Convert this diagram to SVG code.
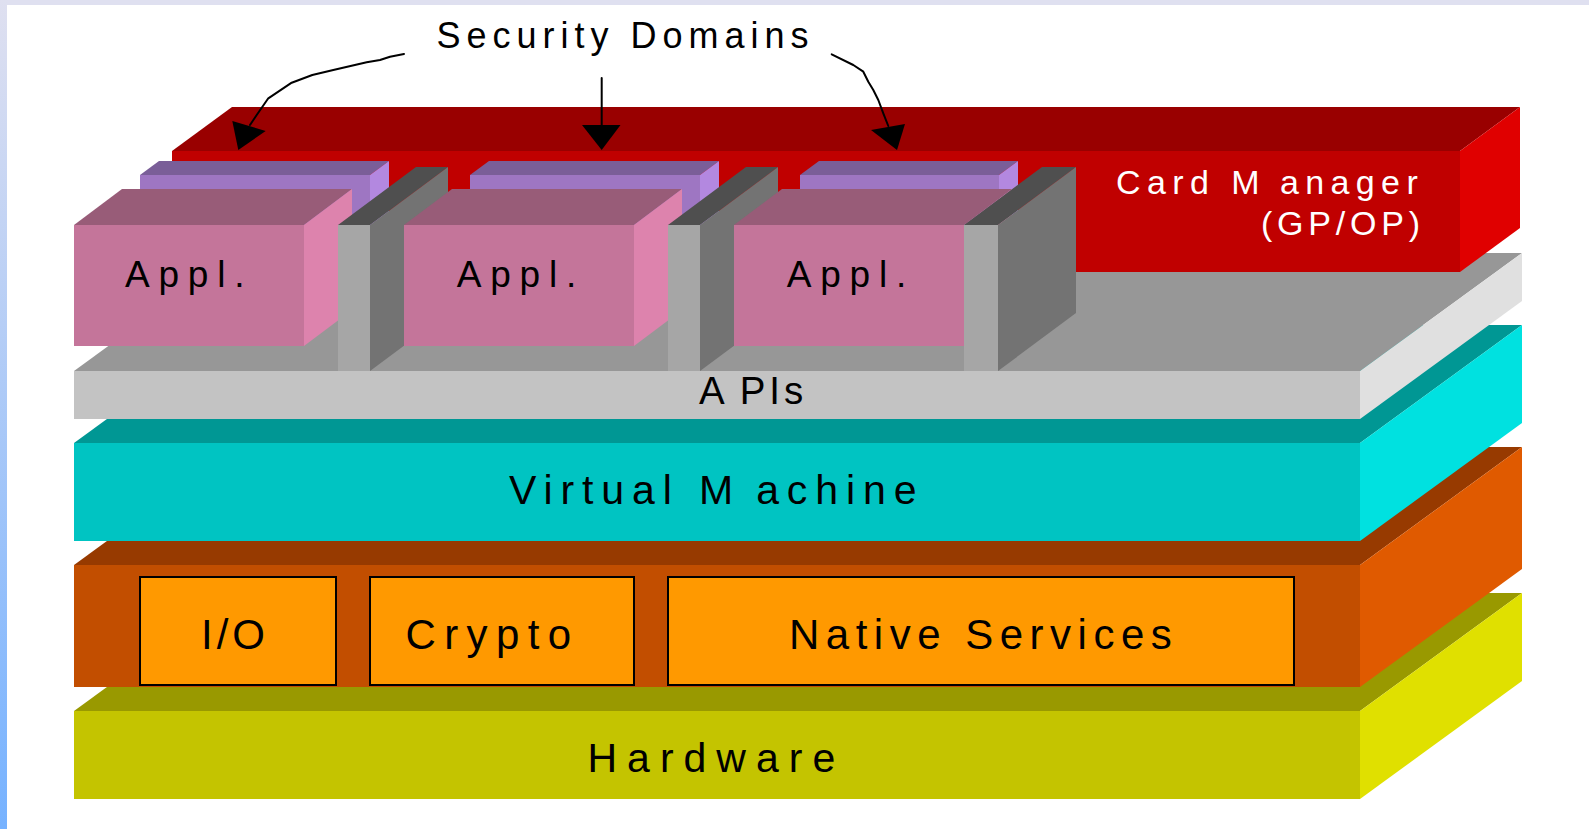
<svg xmlns="http://www.w3.org/2000/svg" width="1589" height="829" viewBox="0 0 1589 829">
<defs>
<linearGradient id="edge" x1="0" y1="0" x2="0" y2="1">
<stop offset="0" stop-color="#dfe0f0"/>
<stop offset="1" stop-color="#76b2ff"/>
</linearGradient>
</defs>
<style>
text{font-family:"Liberation Sans",Arial,Helvetica,sans-serif;fill:#000}
.w{fill:#fff}
.hw-top{fill:#999900}.hw-front{fill:#c4c400}.hw-side{fill:#e0e000}
.ns-top{fill:#973a00}.ns-front{fill:#c24e00}.ns-side{fill:#e05a00}
.box{fill:#ff9900;stroke:#000;stroke-width:2}
.vm-top{fill:#009794}.vm-front{fill:#00c4c2}.vm-side{fill:#00e1e0}
.api-top{fill:#979797}.api-front{fill:#c3c3c3}.api-side{fill:#e0e0e0}
.cm-top{fill:#990000}.cm-front{fill:#c00000}.cm-side{fill:#e00000}
.sd-top{fill:#7a5e98}.sd-front{fill:#9e76c2}.sd-side{fill:#b388e0}
.ap-top{fill:#985c78}.ap-front{fill:#c4759a}.ap-side{fill:#dd83ad}
.sp-top{fill:#4f4f4f}.sp-front{fill:#a6a6a6}.sp-side{fill:#737373}
.line{fill:none;stroke:#000;stroke-width:2;stroke-linejoin:round;stroke-linecap:round}
.head{fill:#000}
</style>
<rect x="0" y="0" width="1589" height="829" fill="#fff"/>
<rect x="0" y="0" width="1589" height="5" fill="#dfe0f0"/>
<rect x="0" y="0" width="7" height="829" fill="url(#edge)"/>

<g id="hardware">
<polygon class="hw-top" points="74,711 236,593 1522,593 1360,711"/>
<polygon class="hw-side" points="1360,711 1522,593 1522,681 1360,799"/>
<rect class="hw-front" x="74" y="711" width="1286" height="88"/>
<text x="587.5" y="772" font-size="41" letter-spacing="10">Hardware</text>
</g>

<g id="native-layer">
<polygon class="ns-top" points="74,565 236,447 1522,447 1360,565"/>
<polygon class="ns-side" points="1360,565 1522,447 1522,569 1360,687"/>
<rect class="ns-front" x="74" y="565" width="1286" height="122"/>
</g>
<g id="io">
<rect class="box" x="140" y="577" width="196" height="108"/>
<text x="201" y="649" font-size="42" letter-spacing="4">I/O</text>
</g>
<g id="crypto">
<rect class="box" x="370" y="577" width="264" height="108"/>
<text x="405.5" y="649" font-size="42" letter-spacing="8.4">Crypto</text>
</g>
<g id="native-services">
<rect class="box" x="668" y="577" width="626" height="108"/>
<text x="789" y="649" font-size="42" letter-spacing="6.5">Native Services</text>
</g>

<g id="virtual-machine">
<polygon class="vm-top" points="74,443 236,325 1522,325 1360,443"/>
<polygon class="vm-side" points="1360,443 1522,325 1522,423 1360,541"/>
<rect class="vm-front" x="74" y="443" width="1286" height="98"/>
<text x="509" y="504" font-size="41" letter-spacing="7.9">Virtual M<tspan dx="15">achine</tspan></text>
</g>

<g id="apis">
<polygon class="api-top" points="74,371 236,253 1522,253 1360,371"/>
<polygon class="api-side" points="1360,371 1522,253 1522,301 1360,419"/>
<rect class="api-front" x="74" y="371" width="1286" height="48"/>
<text x="699" y="404" font-size="38.5" letter-spacing="4">A<tspan dx="11">PIs</tspan></text>
</g>

<g id="card-manager">
<polygon class="cm-top" points="172,151 232,107 1520,107 1460,151"/>
<polygon class="cm-side" points="1460,151 1520,107 1520,228 1460,272"/>
<rect class="cm-front" x="172" y="151" width="1288" height="121"/>
<text class="w" x="1116" y="194" font-size="34" letter-spacing="6.4">Card M<tspan dx="14">anager</tspan></text>
<text class="w" x="1261" y="235" font-size="34" letter-spacing="4.8">(GP/OP)</text>
</g>

<g id="security-domain-1">
<polygon class="sd-top" points="140,175 159,161 389,161 370,175"/>
<polygon class="sd-side" points="370,175 389,161 389,216 370,230"/>
<rect class="sd-front" x="140" y="175" width="230" height="55"/>
</g>
<g id="security-domain-2">
<polygon class="sd-top" points="470,175 489,161 719,161 700,175"/>
<polygon class="sd-side" points="700,175 719,161 719,216 700,230"/>
<rect class="sd-front" x="470" y="175" width="230" height="55"/>
</g>
<g id="security-domain-3">
<polygon class="sd-top" points="800,175 819,161 1018,161 999,175"/>
<polygon class="sd-side" points="999,175 1018,161 1018,216 999,230"/>
<rect class="sd-front" x="800" y="175" width="199" height="55"/>
</g>

<g id="appl-1">
<polygon class="ap-top" points="74,225 122,189 352,189 304,225"/>
<polygon class="ap-side" points="304,225 352,189 352,310 304,346"/>
<rect class="ap-front" x="74" y="225" width="230" height="121"/>
<text x="125" y="287" font-size="37" letter-spacing="8.8">Appl.</text>
</g>
<g id="firewall-1">
<polygon class="sp-top" points="338,225 416,167 448,167 370,225"/>
<polygon class="sp-side" points="370,225 448,167 448,313 370,371"/>
<rect class="sp-front" x="338" y="225" width="32" height="146"/>
</g>
<g id="appl-2">
<polygon class="ap-top" points="404,225 452,189 682,189 634,225"/>
<polygon class="ap-side" points="634,225 682,189 682,310 634,346"/>
<rect class="ap-front" x="404" y="225" width="230" height="121"/>
<text x="456.7" y="287" font-size="37" letter-spacing="8.8">Appl.</text>
</g>
<g id="firewall-2">
<polygon class="sp-top" points="668,225 746,167 778,167 700,225"/>
<polygon class="sp-side" points="700,225 778,167 778,313 700,371"/>
<rect class="sp-front" x="668" y="225" width="32" height="146"/>
</g>
<g id="appl-3">
<polygon class="ap-top" points="734,225 782,189 1012,189 964,225"/>
<polygon class="ap-side" points="964,225 1012,189 1012,310 964,346"/>
<rect class="ap-front" x="734" y="225" width="230" height="121"/>
<text x="786.7" y="287" font-size="37" letter-spacing="8.8">Appl.</text>
</g>
<g id="firewall-3">
<polygon class="sp-top" points="964,225 1042,167 1076,167 998,225"/>
<polygon class="sp-side" points="998,225 1076,167 1076,313 998,371"/>
<rect class="sp-front" x="964" y="225" width="34" height="146"/>
</g>

<g id="security-domains-label">
<text x="436.5" y="47.7" font-size="36" letter-spacing="6">Security Domains</text>
</g>

<g id="connectors">
<polyline class="line" points="404,54 390,56.7 380,60 366.7,62.3 333.3,70 312.3,75 291.7,82.7 268.3,98.3 256.7,115 250,125"/>
<polygon class="head" points="232.3,121 265.7,131 238.3,150"/>
<line class="line" x1="601.7" y1="78" x2="601.7" y2="127"/>
<polygon class="head" points="582,125 620.5,125 601.7,150"/>
<polyline class="line" points="831.7,54.3 853.3,65 863.3,71.7 868.3,81.7 873.3,90 878.3,100 883.3,113.3 888.3,126"/>
<polygon class="head" points="871,130 905,124 897,150"/>
</g>
</svg>
